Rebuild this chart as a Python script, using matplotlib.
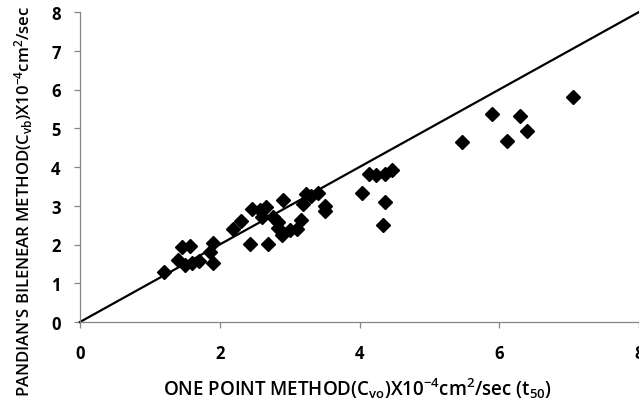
import matplotlib.pyplot as plt

plt.rcParams['font.family'] = ['Open Sans', 'DejaVu Sans']
plt.rcParams['mathtext.default'] = 'regular'

# One point method (Cvo) vs Pandian's bilinear method (Cvb), x10^-4 cm2/sec
cv_one_point = [1.20, 1.40, 1.46, 1.57, 1.50, 1.60, 1.70, 1.90, 1.86, 1.91,
                2.19, 2.30, 2.46, 2.57, 2.66, 2.44, 2.69, 2.61, 2.76, 2.84,
                2.83, 2.89, 2.90, 3.00, 3.10, 3.16, 3.19, 3.23, 3.31, 3.41,
                3.51, 3.51, 4.04, 4.13, 4.23, 4.36, 4.46, 4.37, 4.33, 5.46,
                5.90, 6.29, 6.40, 6.11, 7.06]
cv_bilinear = [1.29, 1.60, 1.94, 1.96, 1.47, 1.52, 1.57, 2.04, 1.81, 1.52,
               2.40, 2.61, 2.92, 2.89, 2.97, 2.01, 2.01, 2.71, 2.71, 2.58,
               2.43, 2.25, 3.15, 2.37, 2.40, 2.63, 3.05, 3.30, 3.25, 3.33,
               2.99, 2.86, 3.33, 3.82, 3.79, 3.82, 3.92, 3.10, 2.50, 4.65,
               5.37, 5.32, 4.93, 4.67, 5.81]

# line of equality
line_x = [0, 8]
line_y = [0, 8]

x_ticks = [0, 2, 4, 6, 8]
y_ticks = [0, 1, 2, 3, 4, 5, 6, 7, 8]

fig = plt.figure(figsize=(6.39, 4.02), dpi=100)
ax = fig.add_axes([80 / 639, 79 / 402, 559 / 639, 310 / 402])

ax.plot(line_x, line_y, color='black', linewidth=1.6, clip_on=False, zorder=2)
ax.plot(cv_one_point, cv_bilinear, linestyle='none', marker='D',
        markersize=6.7, color='black', zorder=3)

ax.set_xlim(0, 8)
ax.set_ylim(0, 8)
ax.set_xticks(x_ticks)
ax.set_yticks(y_ticks)

for side in ['top', 'right']:
    ax.spines[side].set_visible(False)
for side in ['left', 'bottom']:
    ax.spines[side].set_color('#868686')
    ax.spines[side].set_linewidth(0.9)

ax.tick_params(axis='both', direction='out', length=4, width=0.9,
               color='#868686', labelsize=12)
ax.tick_params(axis='x', pad=12)
ax.tick_params(axis='y', pad=10)
for lbl in ax.get_xticklabels() + ax.get_yticklabels():
    lbl.set_fontweight('bold')

fig.text(357 / 639, 1 - 389 / 402,
         'ONE POINT METHOD(C$_{vo}$)X10$^{-4}$cm$^{2}$/sec (t$_{50}$)',
         ha='center', va='center', fontsize=13.5, fontweight='semibold')
fig.text(24 / 639, 1 - 201 / 402,
         "PANDIAN'S BILENEAR METHOD(C$_{vb}$)X10$^{-4}$cm$^{2}$/sec",
         ha='center', va='center', rotation=90, fontsize=12,
         fontweight='semibold')

fig.savefig('out.png', dpi=100)
